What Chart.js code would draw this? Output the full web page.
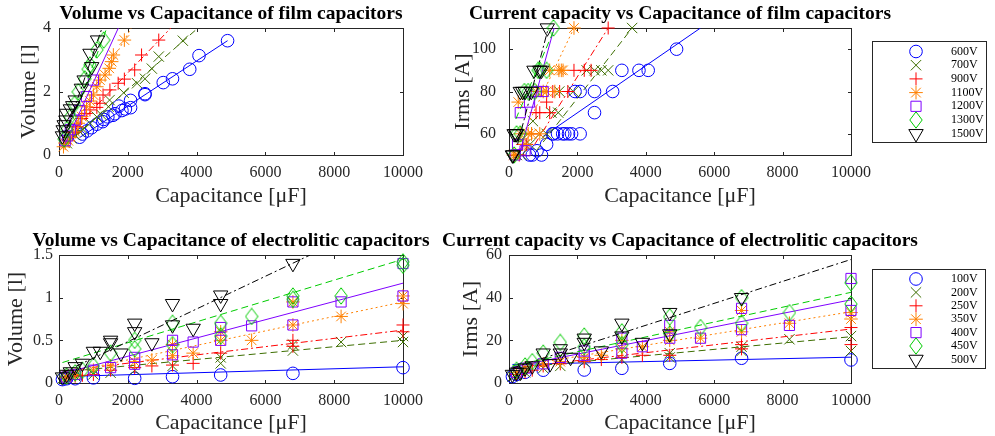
<!DOCTYPE html>
<html><head><meta charset="utf-8">
<script src="https://cdn.jsdelivr.net/npm/chart.js@4/dist/chart.umd.min.js"></script>
<style>
html,body{margin:0;padding:0;background:#fff;}
body{width:995px;height:436px;position:relative;overflow:hidden;}
canvas{position:absolute;}
</style></head><body>
<canvas id="c1" width="470" height="209" style="left:0;top:0"></canvas>
<canvas id="c2" width="575" height="209" style="left:420px;top:0"></canvas>
<canvas id="c3" width="470" height="209" style="left:0;top:227px"></canvas>
<canvas id="c4" width="575" height="209" style="left:420px;top:227px"></canvas>
<script>
// ---------- labels & ticks ----------
const filmLabels = ['600V','700V','900V','1100V','1200V','1300V','1500V'];
const elecLabels = ['100V','200V','250V','350V','400V','450V','500V'];
const capTicks = [0, 2000, 4000, 6000, 8000, 10000];
const filmVolTicks = [0, 2, 4];
const filmIrmsTicks = [60, 80, 100];
const elecVolTicks = [0, 0.5, 1, 1.5];
const elecIrmsTicks = [0, 20, 40, 60];

// ---------- film capacitors (capacitance uF, volume l, Irms A) ----------
const filmCap600  = [4900,4070,3800,3300,3030,2500,2500,2080,2080,1930,1830,1740,1630,1570,1420,1300,1270,1100,950,820,680,600];
const filmVol600  = [3.6,3.13,2.7,2.4,2.28,1.93,1.9,1.72,1.49,1.45,1.4,1.54,1.3,1.25,1.2,1.12,1.05,0.97,0.86,0.76,0.66,0.56];
const filmIrms600 = [100,90,90,90,80,80,70,80,60,80,60,60,60,60,60,60,60,55,50,52,50,50];
const filmCap700  = [3600,2900,2700,2500,2270,1880,1470,1440,1240,1100,900,700,610,470,370,230];
const filmVol700  = [3.6,3.1,2.72,2.4,2.26,1.96,1.73,1.52,1.26,1.2,1.0,0.8,0.73,0.63,0.52,0.37];
const filmIrms700 = [110,90,90,90,90,80,80,70,70,60,60,66,55,55,50,50];
const filmCap900  = [2900,2400,2200,1900,1720,1480,1280,1190,1100,900,790,660,520,400,300];
const filmVol900  = [3.62,3.15,2.68,2.39,2.26,2.05,1.89,1.63,1.5,1.42,1.31,1.15,0.89,0.7,0.55];
const filmIrms900 = [110,90,90,90,80,80,80,70,75,70,70,60,55,55,50];
const filmCap1100  = [1900,1580,1530,1460,1340,1190,1100,1000,900,800,660,560,470,330,270,180,130];
const filmVol1100  = [3.62,3.15,2.94,2.73,2.52,2.36,2.15,1.89,1.7,1.52,1.21,1.0,0.73,0.55,0.45,0.37,0.26];
const filmIrms1100 = [110,90,90,90,80,90,80,80,60,80,60,60,55,60,75,50,50];
const filmCap1200  = [1000,800,600,470,330,250,180];
const filmVol1200  = [2.36,1.84,1.4,1.1,0.8,0.6,0.45];
const filmIrms1200 = [80,80,75,52,70,55,50];
const filmCap1300  = [1300,1100,900,850,750,560,450,330,220,150];
const filmVol1300  = [3.62,3.31,2.84,2.7,2.4,1.99,1.6,1.2,0.8,0.5];
const filmIrms1300 = [110,90,90,90,80,80,80,60,60,50];
const filmCap1500  = [1120,950,900,730,650,470,400,330,220,200,150,120,100];
const filmVol1500  = [3.62,2.78,3.2,2.36,2.1,1.73,1.55,1.45,1.31,1.1,0.95,0.79,0.6];
const filmIrms1500 = [110,90,90,90,80,80,80,80,60,60,60,50,50];
// linear fits: [x0, y0, x1, y1]
const filmVolFits  = [[600,0.55,4900,3.6],[200,0.35,4040,4.0],[200,0.55,3250,4.0],[130,0.3,2100,4.0],[180,0.35,1725,4.0],[175,0.47,1390,4.0],[120,0.45,1250,4.0]];
const filmIrmsFits = [[1000,58.8,5600,110],[800,52,3600,110],[750,55,2900,110],[300,56,1900,110],[300,50,1320,110],[200,67,1340,110],[250,55,1150,110]];

// ---------- electrolytic capacitors ----------
const elecCap100  = [100,220,470,1000,2200,3300,4700,6800,10000];
const elecVol100  = [0.04,0.05,0.05,0.06,0.055,0.074,0.094,0.113,0.18];
const elecIrms100 = [3,4,5,6,6.1,6.9,9.2,11.6,10.8];
const elecCap200  = [100,220,470,1000,1500,2200,3300,4700,4700,6800,6800,8200,10000,10000];
const elecVol200  = [0.05,0.06,0.08,0.1,0.12,0.15,0.2,0.23,0.3,0.38,0.45,0.48,0.48,0.55];
const elecIrms200 = [3,4,5,7,8,10,11,12,14,15,17,20.5,15,22];
const elecCap250  = [220,470,680,1000,1500,2200,2700,3300,3900,4700,6800,6800,10000,10000];
const elecVol250  = [0.06,0.08,0.09,0.1,0.15,0.18,0.2,0.21,0.23,0.35,0.43,0.5,0.6,0.68];
const elecIrms250 = [4,5,6,8,9,10,11,12,13,13,16,18,18,26];
const elecCap350  = [220,470,1000,1500,2200,2700,3300,3300,3900,4700,4700,5600,6800,6800,8200,10000,10000];
const elecVol350  = [0.07,0.1,0.15,0.2,0.25,0.27,0.32,0.45,0.35,0.5,0.6,0.5,0.68,0.95,0.78,0.93,1.02];
const elecIrms350 = [5,7,9,10,12,13,16,20,17,20,24,21,24,34,28,30,33];
const elecCap400  = [220,470,1000,1500,2200,2200,3300,3300,3900,4700,4700,5600,6800,6800,8200,10000,10000];
const elecVol400  = [0.07,0.1,0.15,0.18,0.22,0.3,0.33,0.5,0.48,0.5,0.65,0.67,0.68,0.95,0.95,1.02,1.4];
const elecIrms400 = [5,7,9,12,13,15,14,21,17,21,27,21,25,35,27,34,49];
const elecCap450  = [220,470,680,1000,1500,2200,2200,3300,3300,4700,4700,5600,6800,6800,8200,10000,10000];
const elecVol450  = [0.08,0.12,0.15,0.2,0.35,0.4,0.5,0.45,0.7,0.55,0.7,0.78,0.98,1.02,1.02,1.38,1.42];
const elecIrms450 = [6,8,10,14,19,17,22,18,24,23,31,26,28,40,33,37,47];
const elecCap500  = [100,220,330,470,680,1000,1200,1500,1500,1800,2200,2200,2700,3300,3300,3900,4700,4700,6800];
const elecVol500  = [0.07,0.1,0.13,0.19,0.23,0.37,0.37,0.47,0.5,0.35,0.7,0.6,0.47,0.93,0.68,0.64,1.03,0.93,1.4];
const elecIrms500 = [4,5,5,7,8,14,9,16,14,12,21,19,15,28,22,19,33,23,40];
const elecVolFits  = [[100,0.075,10000,0.19],[100,0.13,10000,0.5],[100,0.14,10000,0.62],[100,0.11,10000,0.95],[100,0.11,10000,1.17],[100,0.24,10000,1.45],[100,0.12,7300,1.5]];
const elecIrmsFits = [[100,8.7,10000,12.1],[100,7,10000,21.7],[100,7,10000,25.3],[100,7.5,10000,33.4],[100,7.5,10000,39],[100,8,10000,42.5],[100,7,10000,57.9]];

// ---------- styles ----------
const FONT = "'Liberation Serif','Times New Roman',serif";
const AX = '#262626';
const COLORS = ['#0000FF','#3D6E00','#FF0000','#FF8000','#7F00FF','#00CC00','#000000'];
const DASHES = [[],[7,4],[7,3,2,3],[2,3],[],[7,4],[7,3,2,3]];
function diamondImg(color){
  const c = document.createElement('canvas'); c.width = 14; c.height = 18;
  const g = c.getContext('2d'); g.strokeStyle = color; g.lineWidth = 1;
  g.beginPath(); g.moveTo(7,0.8); g.lineTo(13.2,9); g.lineTo(7,17.2); g.lineTo(0.8,9); g.closePath(); g.stroke();
  return c;
}
const STYLES = ['circle','crossRot','cross','star','rect',diamondImg(COLORS[5]),'triangle'];
const RADII = [6.3,7.3,6.5,6.8,7.2,8,8.3];
const ROTS = [0,0,0,0,0,0,180];

const framePlugin = {
  id: 'frame',
  beforeDatasetsDraw(chart){
    const {ctx, chartArea: a, scales: {x, y}} = chart;
    ctx.save();
    ctx.strokeStyle = AX; ctx.lineWidth = 1;
    const l = Math.round(a.left)+0.5, r = Math.round(a.right)+0.5, t = Math.round(a.top)+0.5, b = Math.round(a.bottom)+0.5;
    ctx.strokeRect(l, t, r-l, b-t);
    const L = 3.5;
    ctx.beginPath();
    x.ticks.forEach(tk => { const p = Math.round(x.getPixelForValue(tk.value))+0.5; ctx.moveTo(p,b); ctx.lineTo(p,b-L); ctx.moveTo(p,t); ctx.lineTo(p,t+L); });
    y.ticks.forEach(tk => { const p = Math.round(y.getPixelForValue(tk.value))+0.5; ctx.moveTo(l,p); ctx.lineTo(l+L,p); ctx.moveTo(r,p); ctx.lineTo(r-L,p); });
    ctx.stroke();
    ctx.restore();
  }
};
const legendPlugin = {
  id: 'boxLegend',
  afterDraw(chart, args, o){
    if (!o || !o.show) return;
    const ctx = chart.ctx;
    ctx.save();
    ctx.fillStyle = '#fff'; ctx.fillRect(o.x, o.y, o.w, o.h);
    ctx.strokeStyle = AX; ctx.lineWidth = 1; ctx.strokeRect(o.x+0.5, o.y+0.5, o.w, o.h);
    chart.data.datasets.filter(d => d.isMarker).forEach((d, i) => {
      const yy = o.first + i*o.step;
      ctx.strokeStyle = d.borderColor; ctx.fillStyle = 'rgba(0,0,0,0)'; ctx.lineWidth = 1;
      Chart.helpers.drawPoint(ctx, {pointStyle: d.pointStyle, rotation: d.pointRotation, radius: d.pointRadius, borderWidth: 1}, o.mx, yy);
      ctx.fillStyle = '#000'; ctx.font = '12px ' + FONT; ctx.textAlign = 'left'; ctx.textBaseline = 'middle';
      ctx.fillText(d.label, o.tx, yy);
    });
    ctx.restore();
  }
};

function makeChart(id, c){
  const datasets = []; let k = 0;
  c.labels.forEach((lab, i) => {
    datasets.push({label: lab, isMarker: true, data: c.xs[i].map((v, j) => ({x: v, y: c.ys[i][j]})),
      showLine: false, pointStyle: STYLES[i], pointRadius: RADII[i], pointRotation: ROTS[i],
      borderColor: COLORS[i], pointBorderColor: COLORS[i], backgroundColor: 'rgba(0,0,0,0)', pointBackgroundColor: 'rgba(0,0,0,0)',
      pointBorderWidth: 1, pointHoverRadius: RADII[i], clip: false, order: 100 - (k++)});
    const f = c.fits[i];
    datasets.push({label: lab + ' fit', data: [{x: f[0], y: f[1]}, {x: f[2], y: f[3]}], showLine: true, pointRadius: 0,
      borderColor: COLORS[i], borderWidth: 1, borderDash: DASHES[i], fill: false, order: 100 - (k++)});
  });
  return new Chart(document.getElementById(id), {
    type: 'scatter',
    data: {datasets},
    options: {
      responsive: false, animation: false, devicePixelRatio: 1,
      layout: {padding: {left: 0, right: c.padR, top: 0, bottom: 0}},
      plugins: {
        legend: {display: false}, tooltip: {enabled: false},
        title: {display: true, text: c.title, fullSize: true, color: '#000', font: {family: FONT, size: 19.5, weight: 'bold'}, padding: {top: 2.3, bottom: 2.3}},
        boxLegend: c.legend
      },
      scales: {
        x: {type: 'linear', min: 0, max: 10000,
          afterBuildTicks: s => { s.ticks = capTicks.map(v => ({value: v})); },
          afterFit: s => { s.height = c.xH; },
          grid: {display: false, drawTicks: false}, border: {display: false},
          ticks: {padding: 8, color: AX, font: {family: FONT, size: 16}, maxRotation: 0, autoSkip: false, callback: v => String(v)},
          title: {display: true, text: 'Capacitance [\u03BCF]', color: AX, font: {family: FONT, size: 22}, padding: {top: 0, bottom: 0}}},
        y: {type: 'linear', position: 'left', min: c.yMin, max: c.yMax,
          afterBuildTicks: s => { s.ticks = c.yTicks.map(v => ({value: v})); },
          afterFit: s => { s.width = c.yW; },
          grid: {display: false, drawTicks: false}, border: {display: false},
          ticks: {padding: c.yPad, color: AX, font: {family: FONT, size: 16}, autoSkip: false, callback: v => String(v)},
          title: {display: true, text: c.yTitle, color: AX, font: {family: FONT, size: 22}, padding: {top: c.yTitlePad, bottom: 0}}},
        yBalance: {type: 'linear', position: 'right', display: true,
          afterFit: s => { s.width = c.yW; },
          grid: {display: false, drawTicks: false}, border: {display: false},
          ticks: {display: false}, title: {display: false}}
      }
    },
    plugins: [framePlugin, legendPlugin]
  });
}

makeChart('c1', {title: 'Volume vs Capacitance of film capacitors', labels: filmLabels,
  xs: [filmCap600, filmCap700, filmCap900, filmCap1100, filmCap1200, filmCap1300, filmCap1500],
  ys: [filmVol600, filmVol700, filmVol900, filmVol1100, filmVol1200, filmVol1300, filmVol1500],
  fits: filmVolFits, yMin: 0, yMax: 4, yTicks: filmVolTicks, yTitle: 'Volume [l]',
  padR: 8, yW: 59, xH: 54, yPad: 8, yTitlePad: 16, legend: {show: false}});
makeChart('c2', {title: 'Current capacity vs Capacitance of film capacitors', labels: filmLabels,
  xs: [filmCap600, filmCap700, filmCap900, filmCap1100, filmCap1200, filmCap1300, filmCap1500],
  ys: [filmIrms600, filmIrms700, filmIrms900, filmIrms1100, filmIrms1200, filmIrms1300, filmIrms1500],
  fits: filmIrmsFits, yMin: 50, yMax: 110, yTicks: filmIrmsTicks, yTitle: 'Irms [A]',
  padR: 55, yW: 89, xH: 54, yPad: 13, yTitlePad: 30,
  legend: {show: true, x: 452, y: 41, w: 114, h: 101, first: 51.5, step: 13.7, mx: 496, tx: 531}});
makeChart('c3', {title: 'Volume vs Capacitance of electrolitic capacitors', labels: elecLabels,
  xs: [elecCap100, elecCap200, elecCap250, elecCap350, elecCap400, elecCap450, elecCap500],
  ys: [elecVol100, elecVol200, elecVol250, elecVol350, elecVol400, elecVol450, elecVol500],
  fits: elecVolFits, yMin: 0, yMax: 1.5, yTicks: elecVolTicks, yTitle: 'Volume [l]',
  padR: 8, yW: 59, xH: 53, yPad: 6, yTitlePad: 3.5, legend: {show: false}});
makeChart('c4', {title: 'Current capacity vs Capacitance of electrolitic capacitors', labels: elecLabels,
  xs: [elecCap100, elecCap200, elecCap250, elecCap350, elecCap400, elecCap450, elecCap500],
  ys: [elecIrms100, elecIrms200, elecIrms250, elecIrms350, elecIrms400, elecIrms450, elecIrms500],
  fits: elecIrmsFits, yMin: 0, yMax: 60, yTicks: elecIrmsTicks, yTitle: 'Irms [A]',
  padR: 55, yW: 89, xH: 53, yPad: 7, yTitlePad: 38,
  legend: {show: true, x: 452, y: 42, w: 113, h: 99, first: 52, step: 13.4, mx: 496, tx: 531}});
</script>
</body></html>
